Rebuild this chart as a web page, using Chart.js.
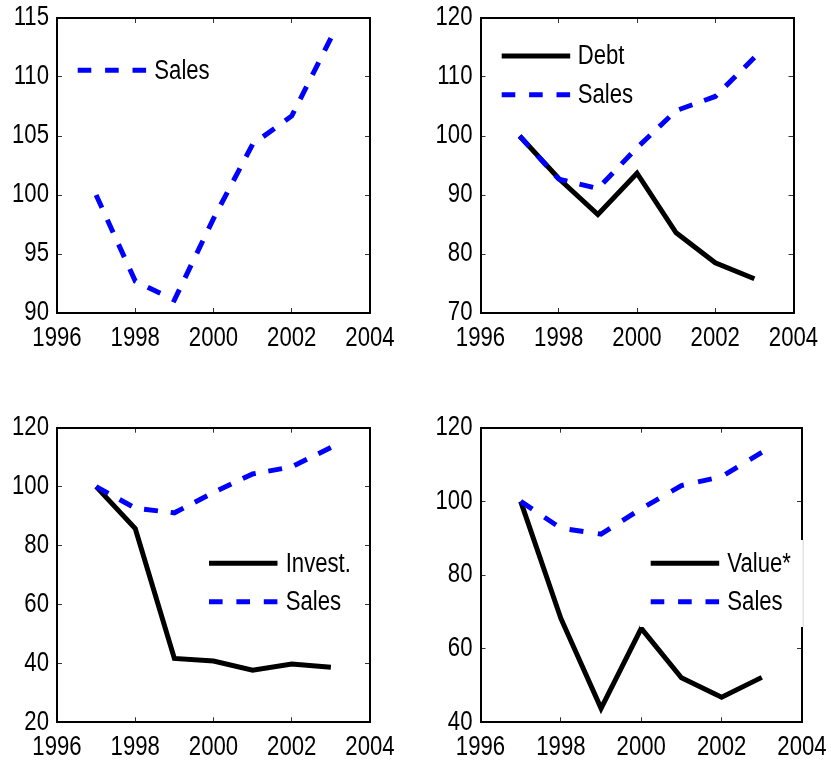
<!DOCTYPE html>
<html><head><meta charset="utf-8">
<script src="https://cdn.jsdelivr.net/npm/chart.js@4.4.1/dist/chart.umd.min.js"></script>
<style>
html,body{margin:0;padding:0;background:#fff;}
#wrap{position:relative;width:831px;height:761px;overflow:hidden;background:#fff;}
canvas{position:absolute;}
</style></head><body>
<div id="wrap">
<canvas id="c1" width="415" height="380" style="left:0px;top:0px"></canvas>
<canvas id="c2" width="416" height="380" style="left:415px;top:0px"></canvas>
<canvas id="c3" width="415" height="381" style="left:0px;top:380px"></canvas>
<canvas id="c4" width="416" height="381" style="left:415px;top:380px"></canvas>
</div>
<script>
// ---- data ----
const years = [1997, 1998, 1999, 2000, 2001, 2002, 2003];
const sales = [100, 92.7, 91.1, 98.0, 104.3, 106.7, 113.3];
const debt = [100, 92.8, 86.7, 93.7, 83.6, 78.5, 75.8];
const invest = [100, 85.8, 41.7, 40.8, 37.7, 39.8, 38.7];
const valueStar = [100, 68.2, 43.8, 65.5, 52.1, 46.8, 52.2];
const xTickLabels = [1996, 1998, 2000, 2002, 2004];
const yTicksSales = [90, 95, 100, 105, 110, 115];
const yTicksDebt = [70, 80, 90, 100, 110, 120];
const yTicksInvest = [20, 40, 60, 80, 100, 120];
const yTicksValue = [40, 60, 80, 100, 120];

const FONT_FAMILY = "'Liberation Sans', Arial, Helvetica, sans-serif";
const FONT = { family: FONT_FAMILY, size: 27 };
const NARROW = 0.82; // Helvetica Narrow look: horizontally condensed text
const LEGEND_DASH = [13.6, 13.8];

function pts(arr) { return years.map((y, i) => ({ x: y, y: arr[i] })); }

function salesDs() {
  return { label: 'Sales', data: pts(sales), borderColor: '#0000ff', borderWidth: 5,
           borderDash: [14, 13.2], borderCapStyle: 'butt', order: 0 };
}
function solidDs(label, arr) {
  return { label, data: pts(arr), borderColor: '#000000', borderWidth: 5,
           borderJoinStyle: 'miter', borderCapStyle: 'butt', order: 1 };
}

const narrowText = {
  id: 'narrowText',
  beforeInit(chart) {
    const ctx = chart.ctx;
    const nativeFill = CanvasRenderingContext2D.prototype.fillText;
    ctx.fillText = function (text, x, y) {
      this.save();
      this.translate(x, y);
      this.scale(NARROW, 1);
      nativeFill.call(this, text, 0, 0);
      this.restore();
    };
  }
};

// fit the dash pattern so the dashed line starts and ends on a dash
const fitDash = {
  id: 'fitDash',
  afterUpdate(chart) {
    if (chart.$dashFitted) return;
    chart.$dashFitted = true;
    let changed = false;
    chart.data.datasets.forEach((ds, i) => {
      if (!ds.borderDash) return;
      const p = chart.getDatasetMeta(i).data;
      let L = 0;
      for (let k = 1; k < p.length; k++) L += Math.hypot(p[k].x - p[k - 1].x, p[k].y - p[k - 1].y);
      const dash = 14, period = 27.2;
      const n = Math.max(1, Math.round((L - dash) / period));
      ds.borderDash = [dash, (L - dash) / n - dash];
      changed = true;
    });
    if (changed) chart.update('none');
  }
};

const boxLegend = {
  id: 'boxLegend',
  afterDraw(chart, args, opts) {
    const ctx = chart.ctx;
    ctx.save();
    if (opts.box) {
      ctx.fillStyle = '#ffffff';
      ctx.fillRect(opts.box[0], opts.box[1], opts.box[2], opts.box[3]);
    }
    if (opts.edge) {
      ctx.strokeStyle = '#d4d4d4'; ctx.lineWidth = 1;
      ctx.beginPath(); ctx.moveTo(opts.edge[0], opts.edge[1]); ctx.lineTo(opts.edge[0], opts.edge[2]); ctx.stroke();
    }
    chart.data.datasets.forEach((ds, i) => {
      const y = opts.y + i * opts.spacing;
      ctx.beginPath();
      ctx.setLineDash(ds.borderDash ? LEGEND_DASH : []);
      ctx.lineDashOffset = 0;
      ctx.lineWidth = ds.borderWidth;
      ctx.strokeStyle = ds.borderColor;
      ctx.lineCap = 'butt';
      ctx.moveTo(opts.x, y); ctx.lineTo(opts.x + opts.len, y);
      ctx.stroke();
      ctx.setLineDash([]);
      ctx.fillStyle = '#000';
      ctx.font = FONT.size + 'px ' + FONT_FAMILY;
      ctx.textBaseline = 'middle';
      ctx.textAlign = 'left';
      ctx.fillText(ds.label, opts.textX, y + 1);
    });
    ctx.restore();
  }
};

function makeChart(id, datasets, yTicks, L, legend) {
  const grid = { drawOnChartArea: false, drawTicks: true, tickLength: -5, color: '#333', lineWidth: 1 };
  const border = { display: true, color: '#000', width: 2 };
  const noPad = s => { s.paddingTop = 0; s.paddingBottom = 0; s.paddingLeft = 0; s.paddingRight = 0; };
  const xBase = {
    type: 'linear', min: xTickLabels[0], max: xTickLabels[xTickLabels.length - 1],
    afterBuildTicks: s => { s.ticks = xTickLabels.map(v => ({ value: v })); },
    grid, border
  };
  const yBase = {
    type: 'linear', min: yTicks[0], max: yTicks[yTicks.length - 1],
    afterBuildTicks: s => { s.ticks = yTicks.map(v => ({ value: v })); },
    grid, border
  };
  return new Chart(document.getElementById(id), {
    type: 'line',
    data: { datasets },
    options: {
      responsive: false, animation: false, devicePixelRatio: 1,
      elements: { point: { radius: 0 }, line: { tension: 0 } },
      layout: { padding: { left: 0, top: L.top, right: L.right, bottom: 0 } },
      plugins: { legend: { display: false }, tooltip: { enabled: false }, boxLegend: legend },
      scales: {
        x: Object.assign({}, xBase, { position: 'bottom', axis: 'x',
          afterFit: s => { s.height = L.bottom; noPad(s); },
          ticks: { display: true, padding: 14, color: '#000', font: FONT, maxRotation: 0, autoSkip: false,
                   callback: v => String(v) } }),
        x2: Object.assign({}, xBase, { position: 'top', axis: 'x',
          afterFit: s => { s.height = 0; noPad(s); }, ticks: { display: false } }),
        y: Object.assign({}, yBase, { position: 'left', axis: 'y',
          afterFit: s => { s.width = L.left; noPad(s); },
          ticks: { display: true, padding: 13, color: '#000', font: FONT, autoSkip: false,
                   callback: v => String(v) } }),
        y2: Object.assign({}, yBase, { position: 'right', axis: 'y',
          afterFit: s => { s.width = 0; noPad(s); }, ticks: { display: false } })
      }
    },
    plugins: [narrowText, fitDash, boxLegend]
  });
}

makeChart('c1', [salesDs()], yTicksSales,
  { left: 57, top: 18, right: 45, bottom: 67 },
  { x: 77.7, y: 70.3, spacing: 38.6, len: 68.5, textX: 154.3 });

makeChart('c2', [solidDs('Debt', debt), salesDs()], yTicksDebt,
  { left: 65.5, top: 18, right: 37.5, bottom: 67 },
  { x: 86.7, y: 56, spacing: 38.7, len: 68.5, textX: 162.7 });

makeChart('c3', [solidDs('Invest.', invest), salesDs()], yTicksInvest,
  { left: 57, top: 47.7, right: 45, bottom: 38.7 },
  { x: 209, y: 183.3, spacing: 38.4, len: 68.5, textX: 285.7 });

makeChart('c4', [solidDs('Value*', valueStar), salesDs()], yTicksValue,
  { left: 65.5, top: 47.7, right: 29, bottom: 38.7 },
  { x: 235.7, y: 183.3, spacing: 38.4, len: 68.5, textX: 312.3,
    box: [225, 160, 191, 87], edge: [388.2, 160, 247] });
</script>
</body></html>
